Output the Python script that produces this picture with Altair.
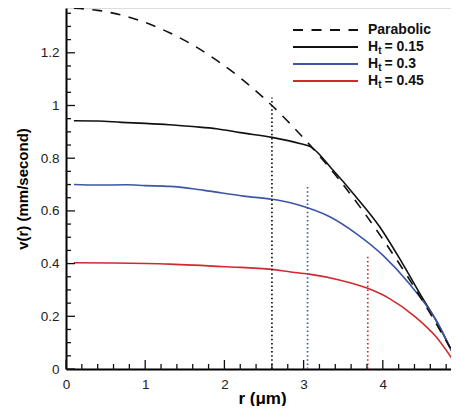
import altair as alt
import pandas as pd

# ---------------- data ----------------
para_r = [0.1, 0.4, 0.7, 1.0, 1.3, 1.6, 1.9, 2.2, 2.5, 2.8, 3.1, 3.4, 3.7, 4.0, 4.3, 4.6, 4.88]
para_v = [1.369, 1.361, 1.343, 1.315, 1.277, 1.230, 1.172, 1.105, 1.028, 0.940, 0.843, 0.737, 0.620, 0.493, 0.357, 0.210, 0.065]

h015_r = [0.1, 0.4, 0.7, 1.0, 1.3, 1.6, 1.9, 2.2, 2.6, 2.95, 3.09, 3.37, 3.66, 3.96, 4.25, 4.5, 4.67, 4.88]
h015_v = [0.942, 0.941, 0.936, 0.932, 0.927, 0.920, 0.912, 0.897, 0.879, 0.856, 0.843, 0.755, 0.654, 0.540, 0.400, 0.270, 0.186, 0.062]

h03_r = [0.1, 0.4, 0.76, 1.0, 1.31, 1.6, 1.81, 2.24, 2.6, 2.82, 3.04, 3.33, 3.66, 4.0, 4.33, 4.67, 4.88]
h03_v = [0.700, 0.698, 0.699, 0.696, 0.693, 0.684, 0.675, 0.656, 0.644, 0.632, 0.613, 0.578, 0.515, 0.432, 0.325, 0.186, 0.062]

h045_r = [0.1, 0.6, 1.31, 2.03, 2.6, 2.82, 3.07, 3.45, 3.81, 4.08, 4.41, 4.67, 4.88]
h045_v = [0.403, 0.402, 0.398, 0.388, 0.378, 0.369, 0.360, 0.338, 0.306, 0.268, 0.198, 0.123, 0.037]

marker_series = ["H015", "H03", "H045"]
marker_r = [2.6, 3.05, 3.81]
marker_top = [1.03, 0.70, 0.43]

x_major = [0, 1, 2, 3, 4]
x_minor = [round(0.2 * i, 2) for i in range(25) if i % 5 != 0]
y_major = [0, 0.2, 0.4, 0.6, 0.8, 1, 1.2]
y_minor = [round(0.05 * i, 2) for i in range(28) if i % 4 != 0]

series_names = ["H015", "H03", "H045"]
series_colors = ["#111111", "#3d55a6", "#cf2a2e"]

# ---------------- layout / style ----------------
W, H = 385, 361
X_MAX = 4.861
FONT = "Liberation Sans"
x_scale = alt.Scale(domain=[0, X_MAX], nice=False, zero=False)
y_scale = alt.Scale(domain=[0, 1.37], nice=False, zero=False)
color_scale = alt.Scale(domain=series_names, range=series_colors)

x_axis = alt.Axis(values=x_major, format="~g", ticks=False, tickSize=0, labelPadding=8,
                  labelFontSize=13.5, labelFont=FONT, labelColor="#222", labelFlush=False,
                  title="r (\u03bcm)", titleFont=FONT, titleFontSize=17, titleFontWeight="bold",
                  titleColor="black", titleX=196, titleY=34, titleBaseline="alphabetic",
                  domainColor="black", domainWidth=2, grid=False)
y_axis = alt.Axis(values=y_major, format="~g", ticks=False, tickSize=0, labelPadding=7,
                  labelFontSize=13.5, labelFont=FONT, labelColor="#222", labelFlush=False,
                  title="v(r) (mm/second)", titleFont=FONT, titleFontSize=15, titleFontWeight="bold",
                  titleColor="black", titlePadding=10, domainColor="black", domainWidth=2, grid=False)

rows = []
for name, rs, vs in [("H015", h015_r, h015_v), ("H03", h03_r, h03_v), ("H045", h045_r, h045_v)]:
    for r, v in zip(rs, vs):
        rows.append({"series": name, "r": r, "v": v})
df_lines = pd.DataFrame(rows)
df_para = pd.DataFrame({"r": para_r, "v": para_v})
df_mark = pd.DataFrame({"series": marker_series, "r": marker_r, "zero": [0, 0, 0], "top": marker_top})

X = lambda f: alt.X(f, scale=x_scale, axis=x_axis)
Y = lambda f: alt.Y(f, scale=y_scale, axis=y_axis)

lines = alt.Chart(df_lines).mark_line(strokeWidth=1.6, interpolate="monotone").encode(
    x=X("r:Q"), y=Y("v:Q"),
    color=alt.Color("series:N", scale=color_scale, legend=None),
)
para = alt.Chart(df_para).mark_line(strokeWidth=1.6, color="#111111", strokeDash=[10, 8.5],
                                    interpolate="monotone").encode(x=X("r:Q"), y=Y("v:Q"))
markers = alt.Chart(df_mark).mark_rule(strokeWidth=1.7, strokeDash=[1.5, 2.6]).encode(
    x=X("r:Q"), y=Y("zero:Q"), y2="top:Q",
    color=alt.Color("series:N", scale=color_scale, legend=None),
)

def xticks(vals, length):
    return alt.Chart(pd.DataFrame({"r": vals})).mark_rule(color="#111", strokeWidth=1.3).encode(
        x=X("r:Q"), y=alt.value(H), y2=alt.value(H - length))

def yticks(vals, length):
    return alt.Chart(pd.DataFrame({"v": vals})).mark_rule(color="#111", strokeWidth=1.3).encode(
        y=Y("v:Q"), x=alt.value(0), x2=alt.value(length))

# ---------------- manual legend ----------------
one = pd.DataFrame({"k": [0]})
leg_y = [22, 39, 56, 73]
leg_x0, leg_x1, txt_x = 227, 292, 302
legend_layers = []
legend_layers.append(alt.Chart(one).mark_rule(color="#111", strokeWidth=1.8, strokeDash=[10, 8.5]).encode(
    x=alt.value(leg_x0), x2=alt.value(leg_x1), y=alt.value(leg_y[0])))
legend_layers.append(alt.Chart(one).mark_text(align="left", baseline="middle", font=FONT, fontSize=14,
                                              fontWeight="bold", color="#111").encode(
    x=alt.value(txt_x), y=alt.value(leg_y[0]), text=alt.value("Parabolic")))
legend_values = ["= 0.15", "= 0.3", "= 0.45"]
for i, (col, lab) in enumerate(zip(series_colors, legend_values)):
    yy = leg_y[i + 1]
    legend_layers.append(alt.Chart(one).mark_rule(color=col, strokeWidth=1.8).encode(
        x=alt.value(leg_x0), x2=alt.value(leg_x1), y=alt.value(yy)))
    legend_layers.append(alt.Chart(one).mark_text(align="left", baseline="middle", font=FONT, fontSize=14,
                                                  fontWeight="bold", color="#111").encode(
        x=alt.value(txt_x), y=alt.value(yy), text=alt.value("H")))
    legend_layers.append(alt.Chart(one).mark_text(align="left", baseline="middle", font=FONT, fontSize=10,
                                                  fontWeight="bold", color="#111").encode(
        x=alt.value(txt_x + 10.3), y=alt.value(yy + 4), text=alt.value("t")))
    legend_layers.append(alt.Chart(one).mark_text(align="left", baseline="middle", font=FONT, fontSize=14,
                                                  fontWeight="bold", color="#111").encode(
        x=alt.value(txt_x + 16.5), y=alt.value(yy), text=alt.value(lab)))

chart = alt.layer(
    lines, para, markers,
    xticks(x_major, 9), xticks(x_minor, 5),
    yticks(y_major, 9), yticks(y_minor, 5),
    *legend_layers,
).properties(
    width=W, height=H,
    autosize=alt.AutoSizeParams(type="none"),
    padding={"left": 58, "top": 0, "right": 0, "bottom": 37},
).configure_view(stroke=None).configure(background="white")

chart.save("out.html", embed_options={"renderer": "svg", "actions": False})
